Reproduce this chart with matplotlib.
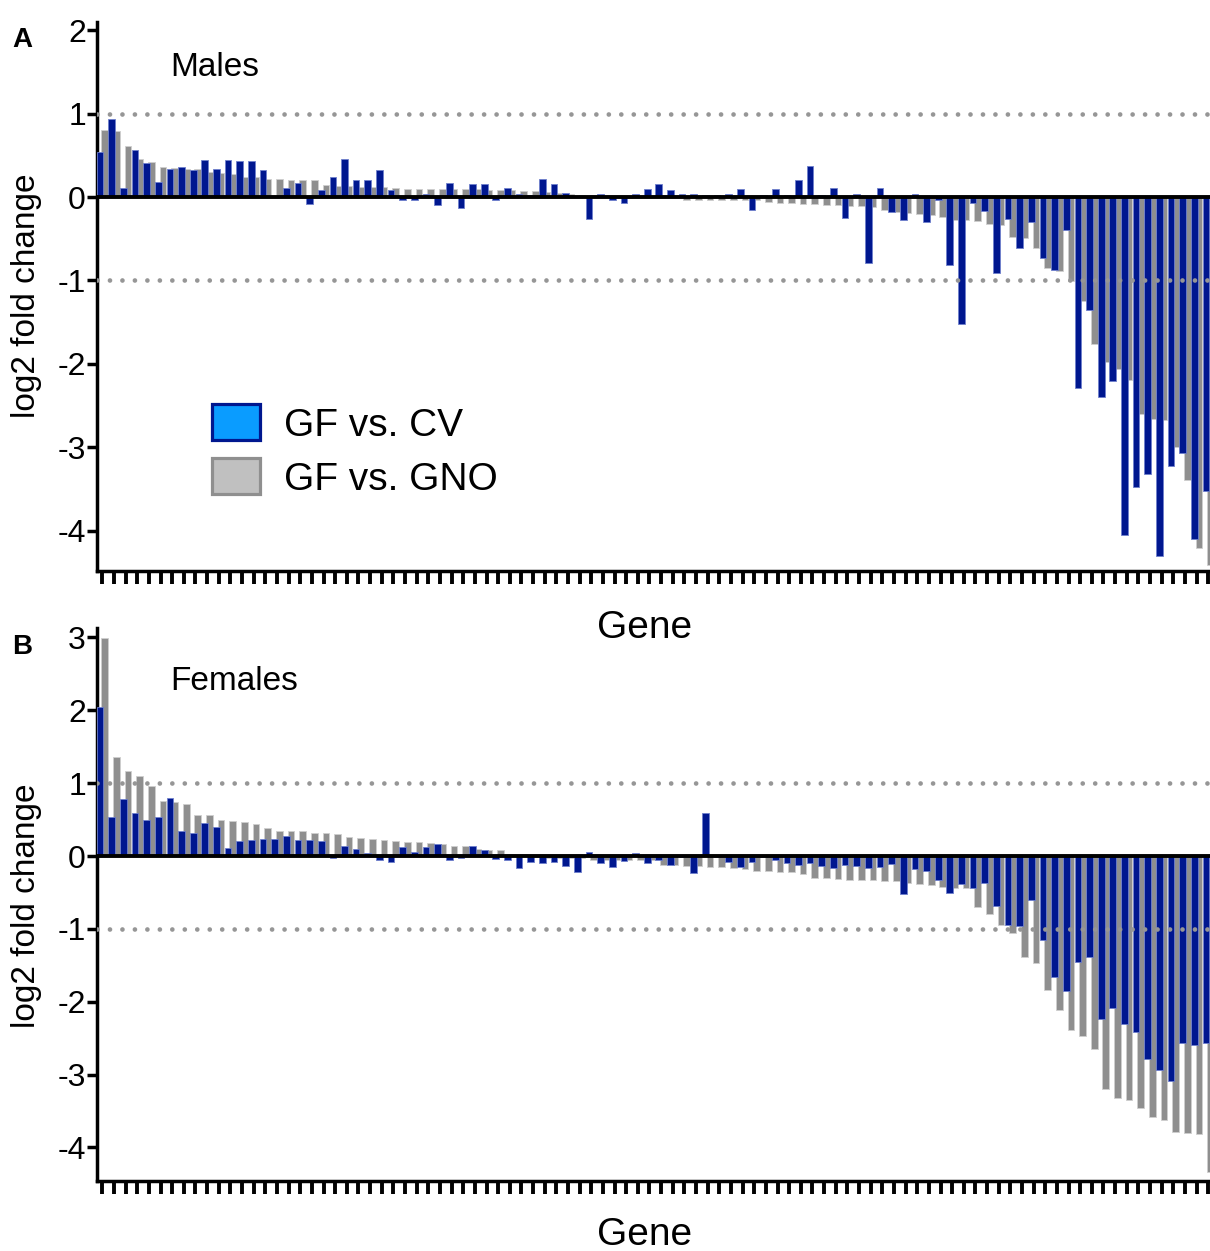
import numpy as np
import matplotlib
matplotlib.use("Agg")
import matplotlib.pyplot as plt
from matplotlib.patches import Rectangle

plt.rcParams['font.family'] = ['Liberation Sans', 'DejaVu Sans']
plt.rcParams['axes.unicode_minus'] = False

# log2 fold change per gene (96 genes each panel)
males_cv = [0.54, 0.94, 0.11, 0.56, 0.41, 0.18, 0.34, 0.36, 0.32, 0.44,
            0.34, 0.44, 0.43, 0.43, 0.32, 0.01, 0.11, 0.17, -0.08, 0.08,
            0.24, 0.45, 0.20, 0.20, 0.32, 0.08, -0.04, -0.03, 0.04, -0.10,
            0.17, -0.13, 0.16, 0.16, -0.03, 0.11, 0.04, 0.03, 0.22, 0.16,
            0.05, 0.01, -0.26, 0.04, -0.03, -0.07, 0.04, 0.10, 0.16, 0.08,
            0.04, 0.04, 0.03, 0.03, 0.04, 0.09, -0.15, 0.03, 0.10, 0.03,
            0.20, 0.37, 0.03, 0.11, -0.25, 0.04, -0.79, 0.11, -0.18, -0.28,
            0.04, -0.30, -0.03, -0.82, -1.52, -0.07, -0.17, -0.91, -0.26, -0.61,
            -0.30, -0.73, -0.87, -0.40, -2.29, -1.35, -2.40, -2.20, -4.05, -3.47,
            -3.32, -4.30, -3.22, -3.07, -4.10, -3.52]
males_gno = [0.80, 0.79, 0.61, 0.46, 0.42, 0.36, 0.35, 0.34, 0.33, 0.30,
             0.29, 0.27, 0.24, 0.24, 0.22, 0.21, 0.20, 0.20, 0.20, 0.14,
             0.13, 0.13, 0.12, 0.12, 0.12, 0.11, 0.10, 0.10, 0.10, 0.10,
             0.09, 0.09, 0.09, 0.08, 0.08, 0.08, 0.07, 0.07, 0.06, 0.05,
             0.04, 0.03, 0.03, 0.02, 0.01, -0.01, 0.01, 0.01, 0.02, 0.00,
             -0.03, -0.03, -0.03, -0.03, -0.03, -0.04, -0.04, -0.06, -0.07, -0.07,
             -0.08, -0.08, -0.09, -0.10, -0.11, -0.11, -0.12, -0.16, -0.18, -0.19,
             -0.20, -0.21, -0.24, -0.27, -0.28, -0.29, -0.32, -0.34, -0.48, -0.49,
             -0.61, -0.85, -0.89, -1.01, -1.25, -1.76, -1.98, -2.06, -2.19, -2.60,
             -2.66, -2.67, -2.99, -3.39, -4.21, -4.41]
females_cv = [2.05, 0.53, 0.78, 0.59, 0.49, 0.53, 0.79, 0.35, 0.31, 0.45,
              0.40, 0.11, 0.21, 0.22, 0.24, 0.24, 0.28, 0.22, 0.22, 0.20,
              -0.02, 0.14, 0.09, 0.04, -0.06, -0.08, 0.13, 0.05, 0.12, 0.17,
              -0.05, -0.02, 0.14, 0.08, -0.04, -0.06, -0.17, -0.08, -0.10, -0.08,
              -0.13, -0.22, 0.05, -0.10, -0.15, -0.07, 0.04, -0.10, -0.05, -0.12,
              -0.01, -0.23, 0.59, -0.01, -0.08, -0.15, -0.08, -0.01, -0.06, -0.10,
              -0.12, -0.09, -0.14, -0.17, -0.12, -0.13, -0.17, -0.15, -0.11, -0.52,
              -0.18, -0.21, -0.33, -0.51, -0.39, -0.44, -0.37, -0.68, -0.94, -0.96,
              -0.61, -1.15, -1.66, -1.85, -1.46, -1.39, -2.24, -2.08, -2.30, -2.41,
              -2.78, -2.94, -3.09, -2.56, -2.59, -2.56]
females_gno = [2.99, 1.36, 1.17, 1.10, 0.96, 0.76, 0.74, 0.71, 0.56, 0.56,
               0.49, 0.48, 0.47, 0.44, 0.38, 0.35, 0.34, 0.34, 0.32, 0.32,
               0.30, 0.26, 0.25, 0.23, 0.22, 0.21, 0.19, 0.19, 0.18, 0.17,
               0.14, 0.14, 0.09, 0.08, 0.08, 0.03, 0.03, -0.01, -0.02, -0.03,
               -0.03, -0.03, -0.05, -0.05, -0.06, -0.06, -0.06, -0.06, -0.12, -0.12,
               -0.14, -0.14, -0.15, -0.15, -0.17, -0.18, -0.20, -0.20, -0.22, -0.22,
               -0.25, -0.30, -0.30, -0.32, -0.33, -0.33, -0.33, -0.34, -0.34, -0.37,
               -0.38, -0.40, -0.42, -0.44, -0.44, -0.70, -0.80, -0.94, -1.06, -1.39,
               -1.47, -1.84, -2.11, -2.39, -2.47, -2.65, -3.20, -3.32, -3.35, -3.46,
               -3.58, -3.62, -3.79, -3.80, -3.82, -4.34]

legend_labels = ['GF vs. CV', 'GF vs. GNO']

blue = '#00178f'
blue_edge = '#6f80cc'
gray = '#8f8f8f'
gray_edge = '#cfcfcf'
dot_color = '#969696'

W, H = 1210, 1251
fig = plt.figure(figsize=(W / 100, H / 100), dpi=100)


def px_axes(left, top, right, bottom):
    return fig.add_axes([left / W, 1 - bottom / H, (right - left) / W, (bottom - top) / H])


def draw_panel(ax, cv, gno, ylim, yticks, title, title_y):
    x = np.arange(len(cv))
    ax.bar(x + 0.2, gno, width=0.575, color=gray, edgecolor=gray_edge, linewidth=0.6, zorder=2)
    ax.bar(x - 0.2, cv, width=0.575, color=blue, edgecolor=blue_edge, linewidth=0.6, zorder=3)
    ax.axhline(0, color='k', lw=2.8, zorder=4)
    for yv in (1, -1):
        ax.axhline(yv, color=dot_color, lw=3.4, linestyle=(0, (0.001, 2.64)),
                   dash_capstyle='round', zorder=5)
    ax.set_xlim(-0.46, 95.15)
    ax.set_ylim(*ylim)
    ax.set_xticks(x)
    ax.set_xticklabels([])
    ax.set_yticks(yticks)
    ax.set_yticklabels([str(t) for t in yticks])
    for s in ('top', 'right'):
        ax.spines[s].set_visible(False)
    for s in ('left', 'bottom'):
        ax.spines[s].set_linewidth(2.5)
        ax.spines[s].set_capstyle('projecting')
    ax.tick_params(axis='x', length=9, width=2.8, direction='out')
    ax.tick_params(axis='y', length=7, width=2.5, direction='out', labelsize=23, pad=1)
    ax.text(0.0656, title_y, title, transform=ax.transAxes, fontsize=24,
            ha='left', va='center')


axA = px_axes(97, 21.7, 1210, 571)
draw_panel(axA, males_cv, males_gno, (-4.48, 2.1), [-4, -3, -2, -1, 0, 1, 2], 'Males', 0.917)

axB = px_axes(97, 628, 1210, 1181)
draw_panel(axB, females_cv, females_gno, (-4.46, 3.13), [-4, -3, -2, -1, 0, 1, 2, 3], 'Females', 0.903)

# legend drawn by hand in panel A
legend_faces = ['#0a9cff', '#c0c0c0']
legend_edges = ['#00178f', '#8f8f8f']
for k, (lab, fc, ec) in enumerate(zip(legend_labels, legend_faces, legend_edges)):
    y0 = 0.2385 - k * 0.0985
    axA.add_patch(Rectangle((0.1033, y0), 0.0431, 0.0655, transform=axA.transAxes,
                            facecolor=fc, edgecolor=ec, lw=2.3, zorder=6, clip_on=False))
    axA.text(0.168, y0 + 0.025, lab, transform=axA.transAxes, fontsize=28,
             ha='left', va='center', zorder=6)

fig.text(22 / W, 1 - 40 / H, 'A', fontsize=20, fontweight='bold', ha='center', va='center')
fig.text(22 / W, 1 - 647 / H, 'B', fontsize=20, fontweight='bold', ha='center', va='center')
fig.text(27 / W, 1 - 296 / H, 'log2 fold change', fontsize=24, rotation=90, ha='center', va='center')
fig.text(27 / W, 1 - 906 / H, 'log2 fold change', fontsize=24, rotation=90, ha='center', va='center')
fig.text(645 / W, 1 - 628 / H, 'Gene', fontsize=28, ha='center', va='center')
fig.text(645 / W, 1 - 1235 / H, 'Gene', fontsize=28, ha='center', va='center')

fig.savefig('out.png', dpi=100)
plt.close()
